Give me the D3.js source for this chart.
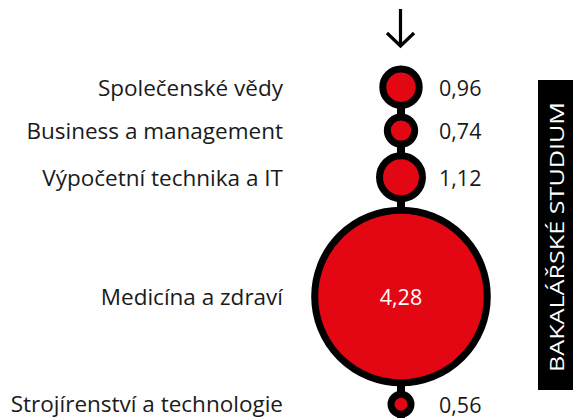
<!DOCTYPE html>
<html>
<head>
<meta charset="utf-8">
<script src="https://cdn.jsdelivr.net/npm/d3@7"></script>
<style>
  html, body { margin: 0; padding: 0; background: #fff; }
  svg { display: block; }
  text { font-family: "Open Sans", Lato, sans-serif; }
</style>
</head>
<body>
<svg id="chart" width="575" height="418"></svg>
<script>
// Obory a jejich hodnoty (bakalářské studium)
const categories = [
  "Společenské vědy",
  "Business a management",
  "Výpočetní technika a IT",
  "Medicína a zdraví",
  "Strojírenství a technologie"
];
const values = [0.96, 0.74, 1.12, 4.28, 0.56];
const valueLabels = ["0,96", "0,74", "1,12", "4,28", "0,56"];
const sideTitle = "BAKALÁŘSKÉ STUDIUM";

const W = 575, H = 418;
const RED = "#e30613", INK = "#1a1a1a";
const ringWidth = 7, gap = 4.5, topY = 65.5;
const cx = 401;

const svg = d3.select("#chart");

// radius of the ring's centre line grows linearly with the value
const r = d3.scaleLinear().domain([0, d3.max(values)]).range([-1.5, 86.3]);

// stack the rings top to bottom, each touching the next with a small gap
const nodes = [];
let y = topY;
values.forEach((v, i) => {
  const outer = r(v) + ringWidth / 2;
  const cy = y + outer;
  nodes.push({ name: categories[i], value: v, label: valueLabels[i], cy, outer });
  y = cy + outer + gap;
});

// connecting stem
svg.append("line")
  .attr("x1", cx).attr("x2", cx)
  .attr("y1", nodes[0].cy).attr("y2", H + 20)
  .attr("stroke", "#000").attr("stroke-width", 8);

// arrow pointing down to the first ring
const arrow = svg.append("g").attr("fill", "none").attr("stroke", "#000").attr("stroke-width", 3.2);
arrow.append("line").attr("x1", cx - 0.5).attr("x2", cx - 0.5).attr("y1", 9).attr("y2", 46);
arrow.append("path").attr("d", `M${cx - 14},${33} L${cx - 0.5},${46} L${cx + 13},${33}`);

// rings
svg.append("g").selectAll("circle")
  .data(nodes).join("circle")
  .attr("cx", cx).attr("cy", d => d.cy)
  .attr("r", d => r(d.value))
  .attr("fill", RED)
  .attr("stroke", "#000").attr("stroke-width", ringWidth);

// category labels on the left (the lowest one kept clear of the bottom edge)
svg.append("g").selectAll("text")
  .data(nodes).join("text")
  .attr("x", 283).attr("y", d => Math.min(d.cy, H - 15))
  .attr("text-anchor", "end").attr("dominant-baseline", "central")
  .attr("font-size", 22.5).attr("fill", INK)
  .text(d => d.name);

// value labels: inside the ring if it is large enough, else to the right
svg.append("g").selectAll("text")
  .data(nodes).join("text")
  .attr("x", d => d.outer > 60 ? cx : 439)
  .attr("y", d => d.cy)
  .attr("text-anchor", d => d.outer > 60 ? "middle" : "start")
  .attr("dominant-baseline", "central")
  .attr("font-size", 21.5)
  .attr("fill", d => d.outer > 60 ? "#fff" : INK)
  .text(d => d.label);

// vertical side banner
const bx = 538, by = 80, bw = 35, bh = 310;
svg.append("rect").attr("x", bx).attr("y", by).attr("width", bw).attr("height", bh).attr("fill", "#000");
svg.append("text")
  .attr("transform", `translate(${bx + bw / 2 + 1},${by + bh / 2 + 2}) rotate(-90)`)
  .attr("text-anchor", "middle").attr("dominant-baseline", "central")
  .attr("font-size", 19.5).attr("fill", "#fff")
  .attr("textLength", 270).attr("lengthAdjust", "spacingAndGlyphs")
  .text(sideTitle);
</script>
</body>
</html>
